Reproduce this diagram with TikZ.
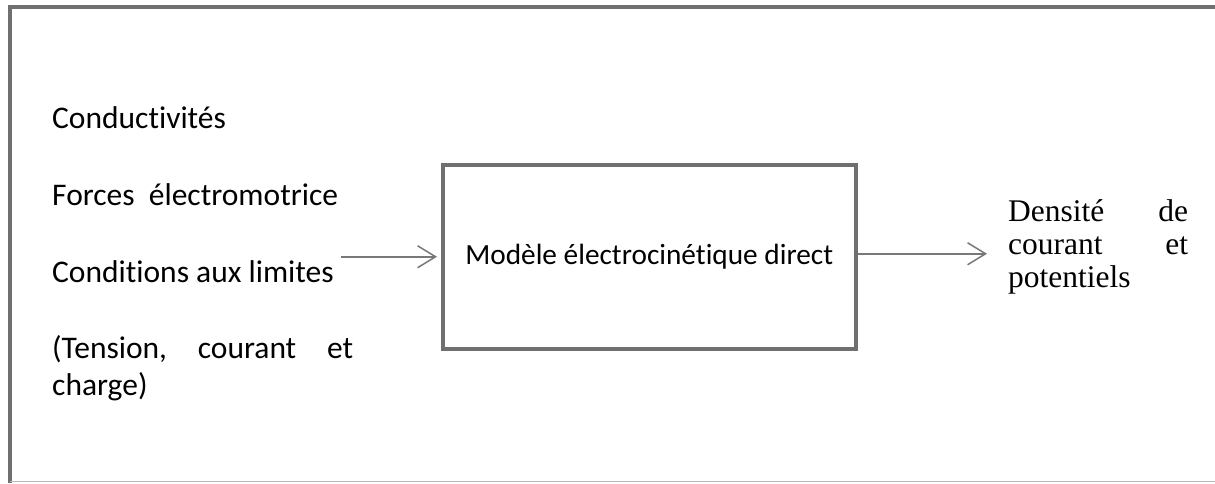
\documentclass[tikz,border=0pt]{standalone}
\usepackage{fontspec}
\setmainfont{Liberation Serif}
\newfontfamily\calibri[Ligatures=NoCommon]{Carlito}
\usetikzlibrary{positioning, arrows.meta}
\definecolor{myframegray}{RGB}{112,112,112}
\definecolor{myarrowgray}{RGB}{120,120,120}
\definecolor{mylightgray}{RGB}{185,185,185}
\tikzset{
  lefttext/.style = {anchor = base west, inner sep = 0pt,
                     font = \calibri\fontsize{31.5}{37}\selectfont},
  modelbox/.style = {rectangle, draw = myframegray, line width = 4pt,
                     minimum width = 412.5pt, minimum height = 184.5pt, inner sep = 0pt,
                     font = \calibri\fontsize{29.3}{35}\selectfont},
  outtext/.style = {anchor = base west, inner sep = 0pt, text width = 180pt, align = left,
                    font = \fontsize{31.5}{33}\selectfont},
  flow/.style = {myarrowgray, line width = 1.5pt, -{Straight Barb[length=18pt, width=22pt]}}
}

\begin{document}
\begin{tikzpicture}[x=1pt, y=-1pt]
  \useasboundingbox (0,0) rectangle (1215,483);

  % outer frame
  \coordinate (frametl) at (9.5,7);
  \coordinate (frametr) at (1215,7);
  \coordinate (framebl) at (9.5,483);
  \draw [myframegray, line width = 4pt] (framebl) -- (frametl) -- (frametr);
  \draw [mylightgray, line width = 1.5pt] (9.5,481.5) -- (1215,481.5);

  % inputs
  \node [lefttext] (conduct) at (52,128) {Conductivités};
  \node [lefttext] (forces) at (52,205) {Forces\ \ électromotrice};
  \node [lefttext] (limits) at (52,282) {Conditions aux limites};
  \node [lefttext, text width = 301pt, align = left] (tension) at (52,358)
        {(Tension,\hfill courant\hfill et\\charge)};

  % model and output
  \node [modelbox] (model) at (649.25,256.75) {Modèle électrocinétique direct};
  \node [outtext] (density) at (1008,221) {Densité\hfill de\\courant\hfill et\\potentiels};

  \draw [flow] ([xshift=7pt]limits.east |- model.west) -- ([xshift=-4pt]model.west);
  \draw [flow, shorten >= 21pt] ([yshift=3pt]model.east) -- ([yshift=3pt]density.west |- model.east);
\end{tikzpicture}
\end{document}
